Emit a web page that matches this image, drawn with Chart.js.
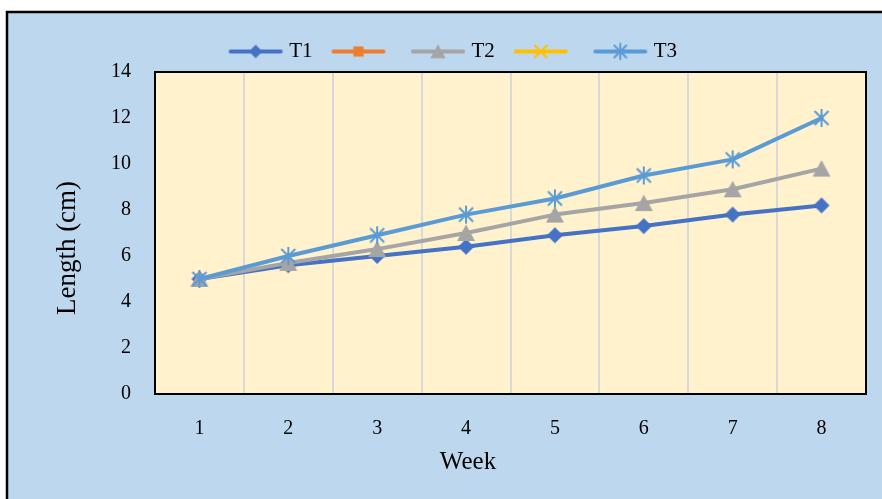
<!DOCTYPE html>
<html>
<head>
<meta charset="utf-8">
<script src="https://cdn.jsdelivr.net/npm/chart.js@4.4.0/dist/chart.umd.min.js"></script>
<style>
  html, body { margin: 0; padding: 0; background: #fff; overflow: hidden; }
</style>
</head>
<body>
<canvas id="chart" width="882" height="499"></canvas>
<script>
// values
const weeks = ['1', '2', '3', '4', '5', '6', '7', '8'];
const t1 = [5.0, 5.6, 6.0, 6.4, 6.9, 7.3, 7.8, 8.2];
const t2 = [5.0, 5.7, 6.3, 7.0, 7.8, 8.3, 8.9, 9.8];
const t3 = [5.0, 6.0, 6.9, 7.8, 8.5, 9.5, 10.2, 12.0];
const seriesOrange = [];
const seriesYellow = [];

const FONT = "'Liberation Serif', 'Times New Roman', serif";
Chart.defaults.font.family = FONT;
Chart.defaults.color = '#000';

function drawMarker(ctx, shape, x, y, color, s) {
    ctx.fillStyle = color;
    ctx.strokeStyle = color;
    ctx.beginPath();
    if (shape === 'diamond') {
        ctx.moveTo(x, y - 8 * s);
        ctx.lineTo(x + 8 * s, y);
        ctx.lineTo(x, y + 8 * s);
        ctx.lineTo(x - 8 * s, y);
        ctx.closePath();
        ctx.fill();
    } else if (shape === 'square') {
        ctx.fillRect(x - 6 * s, y - 6 * s, 12 * s, 12 * s);
    } else if (shape === 'triangle') {
        ctx.moveTo(x, y - 8.5 * s);
        ctx.lineTo(x + 9 * s, y + 8 * s);
        ctx.lineTo(x - 9 * s, y + 8 * s);
        ctx.closePath();
        ctx.fill();
    } else {
        ctx.lineWidth = 2;
        ctx.moveTo(x - 7 * s, y - 7 * s);
        ctx.lineTo(x + 7 * s, y + 7 * s);
        ctx.moveTo(x + 7 * s, y - 7 * s);
        ctx.lineTo(x - 7 * s, y + 7 * s);
        if (shape === 'star') {
            ctx.moveTo(x, y - 9 * s);
            ctx.lineTo(x, y + 9 * s);
        }
        ctx.stroke();
    }
}

function markerImage(shape, color) {
    const c = document.createElement('canvas');
    c.width = 22;
    c.height = 22;
    drawMarker(c.getContext('2d'), shape, 11, 11, color, 1);
    return c;
}

function legendImage(shape, color) {
    const c = document.createElement('canvas');
    c.width = 56;
    c.height = 22;
    const ctx = c.getContext('2d');
    ctx.strokeStyle = color;
    ctx.lineWidth = 4;
    ctx.lineCap = 'round';
    ctx.beginPath();
    ctx.moveTo(3, 11);
    ctx.lineTo(53, 11);
    ctx.stroke();
    drawMarker(ctx, shape, 28, 11, color, 0.85);
    return c;
}

function series(label, values, color, shape, order) {
    return {
        label: label,
        data: values,
        borderColor: color,
        backgroundColor: color,
        borderWidth: 4,
        borderCapStyle: 'round',
        borderJoinStyle: 'round',
        pointStyle: markerImage(shape, color),
        pointRadius: 8,
        legendIcon: legendImage(shape, color),
        order: order
    };
}

const backdrop = {
    id: 'backdrop',
    beforeDraw(chart) {
        const {ctx, chartArea: a, width, height} = chart;
        ctx.save();
        ctx.fillStyle = '#fff';
        ctx.fillRect(0, 0, width, height);
        ctx.fillStyle = '#BDD7EE';
        ctx.fillRect(7, 12, width, height);
        ctx.strokeStyle = '#000';
        ctx.lineWidth = 2.5;
        ctx.beginPath();
        ctx.moveTo(7, height + 5);
        ctx.lineTo(7, 12);
        ctx.lineTo(width + 5, 12);
        ctx.stroke();
        ctx.fillStyle = '#FFF2CC';
        ctx.fillRect(a.left, a.top, a.right - a.left, a.bottom - a.top);
        ctx.restore();
    },
    beforeDatasetsDraw(chart) {
        const {ctx, chartArea: a} = chart;
        ctx.save();
        ctx.strokeStyle = '#000';
        ctx.lineWidth = 2;
        ctx.strokeRect(a.left, a.top, a.right - a.left, a.bottom - a.top);
        ctx.restore();
    }
};

new Chart(document.getElementById('chart'), {
    type: 'line',
    data: {
        labels: weeks,
        datasets: [
            series('T1', t1, '#4472C4', 'diamond', 4),
            series('', seriesOrange, '#ED7D31', 'square', 3),
            series('T2', t2, '#A5A5A5', 'triangle', 2),
            series('', seriesYellow, '#FFC000', 'x', 1),
            series('T3', t3, '#5B9BD5', 'star', 0)
        ]
    },
    options: {
        responsive: false,
        animation: false,
        events: [],
        layout: {padding: {left: 54, right: 0, top: 18, bottom: 21}},
        plugins: {
            tooltip: {enabled: false},
            legend: {
                position: 'top',
                labels: {
                    usePointStyle: true,
                    pointStyleWidth: 46,
                    padding: 23,
                    color: '#000',
                    font: {size: 21},
                    generateLabels(chart) {
                        const n = chart.data.datasets.length;
                        return chart.data.datasets.map((ds, i) => ({
                            // trailing spaces on the last entry nudge the centred row left
                            text: i === n - 1 ? ds.label + '     ' : ds.label,
                            pointStyle: ds.legendIcon,
                            fillStyle: ds.borderColor,
                            strokeStyle: ds.borderColor,
                            lineWidth: 0,
                            fontColor: '#000',
                            hidden: false,
                            datasetIndex: i
                        }));
                    }
                }
            },
            subtitle: {
                display: true,
                text: 'Length (cm)',
                position: 'left',
                color: '#000',
                font: {size: 27, lineHeight: 1, weight: 'normal'},
                padding: {top: 0, bottom: 0}
            },
            title: {
                display: true,
                text: 'Week',
                position: 'bottom',
                color: '#000',
                font: {size: 25, lineHeight: 1, weight: 'normal'},
                padding: {top: 8.5, bottom: 3.5}
            }
        },
        scales: {
            x: {
                offset: true,
                grid: {offset: true, color: '#D9D9D9', lineWidth: 2, drawTicks: false},
                border: {display: false},
                ticks: {color: '#000', font: {size: 20}, padding: 23},
                afterFit(scale) { scale.height = 47; }
            },
            y: {
                min: 0,
                max: 14,
                grid: {display: false, drawTicks: false},
                border: {display: false},
                ticks: {stepSize: 2, color: '#000', font: {size: 20}, padding: 24},
                afterFit(scale) { scale.width = 74; }
            },
            yR: {
                type: 'linear',
                position: 'right',
                grid: {display: false, drawTicks: false},
                border: {display: false},
                ticks: {display: false},
                afterFit(scale) { scale.width = 16; }
            }
        }
    },
    plugins: [backdrop]
});
</script>
</body>
</html>
